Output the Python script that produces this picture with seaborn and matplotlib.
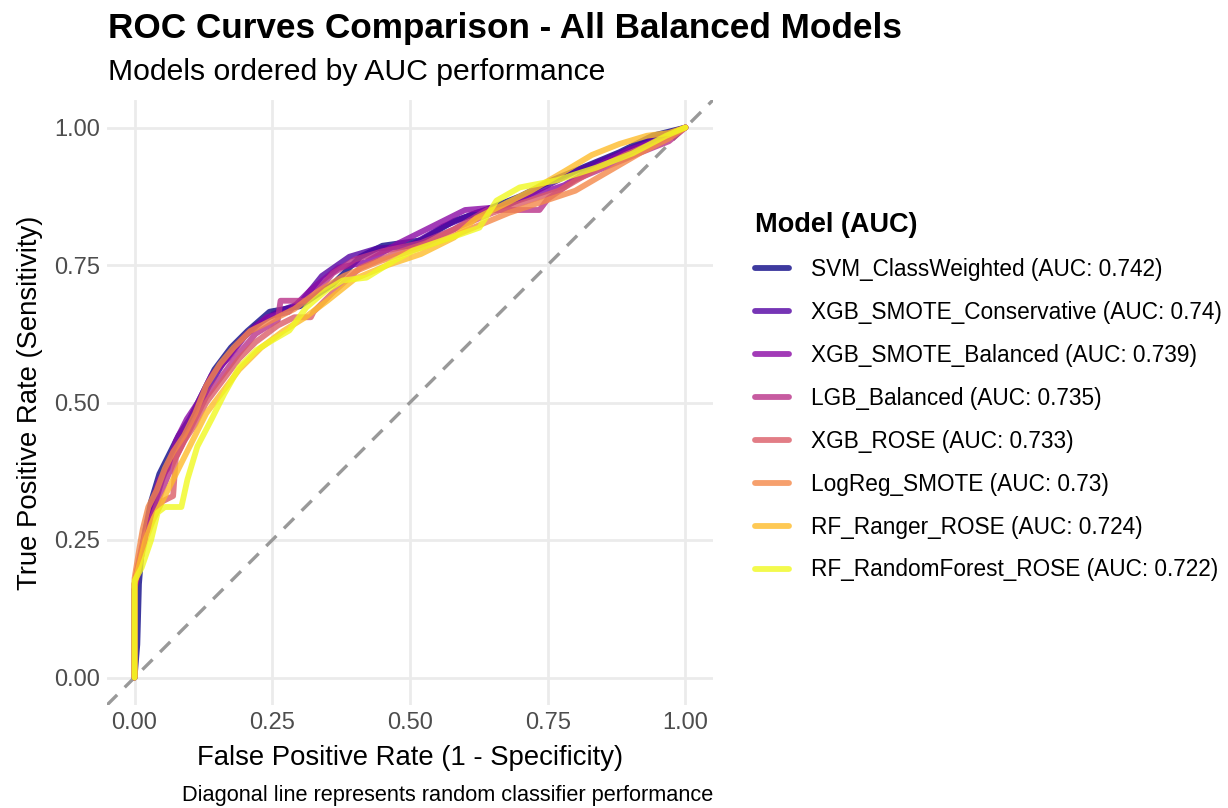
import numpy as np
import pandas as pd
import matplotlib
matplotlib.use("Agg")
import matplotlib.pyplot as plt
import seaborn as sns
from matplotlib.lines import Line2D

sns.set_theme(style="white")
plt.rcParams['font.family'] = ['Liberation Sans', 'DejaVu Sans']
plt.rcParams['text.color'] = 'black'
plt.rcParams['axes.labelcolor'] = 'black'

# ---------------- data ----------------
models = ["SVM_ClassWeighted", "XGB_SMOTE_Conservative", "XGB_SMOTE_Balanced",
          "LGB_Balanced", "XGB_ROSE", "LogReg_SMOTE", "RF_Ranger_ROSE",
          "RF_RandomForest_ROSE"]
auc_labels = ["0.742", "0.74", "0.739", "0.735", "0.733", "0.73", "0.724", "0.722"]

svm_fpr = [0, 0.005, 0.008, 0.012, 0.02, 0.03, 0.045, 0.06, 0.08, 0.10, 0.12, 0.145, 0.175, 0.205,
           0.245, 0.30, 0.36, 0.41, 0.45, 0.52, 0.58, 0.65, 0.70, 0.76, 0.82, 0.88, 0.94, 1.0]
svm_tpr = [0, 0.06, 0.17, 0.22, 0.27, 0.32, 0.37, 0.40, 0.44, 0.47, 0.51, 0.56, 0.60, 0.63,
           0.665, 0.675, 0.715, 0.765, 0.785, 0.795, 0.83, 0.855, 0.875, 0.905, 0.93, 0.955, 0.985, 1.0]

xgbc_fpr = [0, 0, 0.01, 0.02, 0.035, 0.05, 0.07, 0.09, 0.11, 0.135, 0.16, 0.19, 0.22, 0.26,
            0.30, 0.34, 0.39, 0.44, 0.50, 0.56, 0.62, 0.68, 0.74, 0.80, 0.86, 0.92, 0.97, 1.0]
xgbc_tpr = [0, 0.16, 0.21, 0.26, 0.31, 0.36, 0.41, 0.44, 0.48, 0.53, 0.57, 0.61, 0.64, 0.665,
            0.68, 0.73, 0.765, 0.78, 0.785, 0.82, 0.845, 0.86, 0.89, 0.92, 0.945, 0.97, 0.99, 1.0]

xgbb_fpr = [0, 0, 0.01, 0.02, 0.03, 0.045, 0.06, 0.075, 0.095, 0.115, 0.14, 0.17, 0.20, 0.24,
            0.28, 0.32, 0.37, 0.42, 0.48, 0.54, 0.60, 0.66, 0.72, 0.78, 0.84, 0.90, 0.96, 1.0]
xgbb_tpr = [0, 0.17, 0.22, 0.27, 0.31, 0.36, 0.38, 0.43, 0.47, 0.50, 0.55, 0.58, 0.62, 0.655,
            0.665, 0.705, 0.745, 0.755, 0.79, 0.82, 0.85, 0.855, 0.875, 0.895, 0.93, 0.96, 0.98, 1.0]

lgb_fpr = [0, 0, 0.01, 0.02, 0.035, 0.05, 0.07, 0.09, 0.11, 0.13, 0.16, 0.19, 0.22, 0.26, 0.265,
           0.315, 0.33, 0.36, 0.40, 0.45, 0.52, 0.58, 0.64, 0.68, 0.735, 0.75, 0.80, 0.86, 0.92, 0.97, 1.0]
lgb_tpr = [0, 0.16, 0.21, 0.26, 0.30, 0.34, 0.39, 0.43, 0.47, 0.51, 0.55, 0.59, 0.625, 0.65, 0.685,
           0.685, 0.70, 0.735, 0.76, 0.775, 0.79, 0.815, 0.85, 0.85, 0.85, 0.87, 0.905, 0.93, 0.955, 0.975, 1.0]

xgbr_fpr = [0, 0, 0.01, 0.02, 0.035, 0.05, 0.07, 0.075, 0.09, 0.11, 0.13, 0.16, 0.19, 0.22, 0.26,
            0.29, 0.32, 0.325, 0.36, 0.41, 0.47, 0.53, 0.59, 0.65, 0.71, 0.77, 0.83, 0.89, 0.95, 1.0]
xgbr_tpr = [0, 0.17, 0.22, 0.26, 0.29, 0.32, 0.33, 0.40, 0.43, 0.46, 0.50, 0.54, 0.58, 0.61, 0.64,
            0.655, 0.655, 0.665, 0.70, 0.745, 0.77, 0.79, 0.82, 0.845, 0.865, 0.885, 0.92, 0.95, 0.975, 1.0]

logreg_fpr = [0, 0, 0.008, 0.015, 0.025, 0.04, 0.055, 0.07, 0.09, 0.11, 0.13, 0.155, 0.18, 0.21,
              0.25, 0.29, 0.33, 0.38, 0.44, 0.50, 0.56, 0.62, 0.68, 0.74, 0.80, 0.86, 0.92, 0.97, 1.0]
logreg_tpr = [0, 0.18, 0.23, 0.27, 0.31, 0.34, 0.38, 0.41, 0.44, 0.48, 0.53, 0.57, 0.60, 0.63,
              0.65, 0.67, 0.70, 0.73, 0.755, 0.775, 0.795, 0.82, 0.845, 0.865, 0.885, 0.92, 0.955, 0.98, 1.0]

ranger_fpr = [0, 0, 0.01, 0.02, 0.035, 0.05, 0.07, 0.09, 0.11, 0.13, 0.16, 0.19, 0.23, 0.27,
              0.31, 0.35, 0.40, 0.46, 0.52, 0.58, 0.62, 0.67, 0.72, 0.78, 0.83, 0.88, 0.93, 0.97, 1.0]
ranger_tpr = [0, 0.17, 0.21, 0.25, 0.29, 0.32, 0.36, 0.40, 0.44, 0.48, 0.52, 0.56, 0.60, 0.63,
              0.655, 0.685, 0.725, 0.75, 0.77, 0.80, 0.835, 0.86, 0.885, 0.92, 0.95, 0.97, 0.985, 0.99, 1.0]

rf_fpr = [0, 0, 0.013, 0.03, 0.042, 0.055, 0.085, 0.096, 0.114, 0.14, 0.163, 0.19, 0.221, 0.25,
          0.281, 0.312, 0.348, 0.378, 0.421, 0.463, 0.505, 0.595, 0.626, 0.657, 0.699, 0.766, 0.838,
          0.904, 0.965, 1.0]
rf_tpr = [0, 0.176, 0.2, 0.25, 0.30, 0.31, 0.31, 0.36, 0.42, 0.47, 0.516, 0.564, 0.595, 0.613,
          0.631, 0.673, 0.704, 0.722, 0.727, 0.753, 0.776, 0.807, 0.818, 0.867, 0.891, 0.904, 0.927,
          0.953, 0.985, 1.0]

fprs = [svm_fpr, xgbc_fpr, xgbb_fpr, lgb_fpr, xgbr_fpr, logreg_fpr, ranger_fpr, rf_fpr]
tprs = [svm_tpr, xgbc_tpr, xgbb_tpr, lgb_tpr, xgbr_tpr, logreg_tpr, ranger_tpr, rf_tpr]

colors = ["#0D0887", "#5402A3", "#8B0AA5", "#B93289", "#DB5C68", "#F48849", "#FEBC2A", "#F0F921"]

labels = [f"{m} (AUC: {a})" for m, a in zip(models, auc_labels)]
rows = []
for lab, f, t in zip(labels, fprs, tprs):
    for i, (fx, ty) in enumerate(zip(f, t)):
        rows.append({"model": lab, "fpr": fx, "tpr": ty, "order": i})
df = pd.DataFrame(rows)

# ---------------- figure ----------------
W, H = 1228, 808
fig = plt.figure(figsize=(W / 100, H / 100), dpi=100)
ax = fig.add_axes([107 / W, 1 - 705 / H, (713 - 107) / W, (705 - 100) / H])

ax.axline((0, 0), (1, 1), color="#999999", lw=2.4, dashes=(4.3, 3.2), zorder=1)

sns.lineplot(data=df, x="fpr", y="tpr", hue="model", hue_order=labels,
             palette=dict(zip(labels, colors)), sort=False, estimator=None,
             linewidth=4.2, alpha=0.8, ax=ax, legend=True, zorder=2)

ax.set_xlim(-0.05, 1.05)
ax.set_ylim(-0.05, 1.05)
ticks = [0, 0.25, 0.5, 0.75, 1.0]
tick_labels = ["0.00", "0.25", "0.50", "0.75", "1.00"]
ax.set_xticks(ticks)
ax.set_xticklabels(tick_labels)
ax.set_yticks(ticks)
ax.set_yticklabels(tick_labels)
ax.tick_params(axis="both", length=0, labelsize=17, labelcolor="#4D4D4D", pad=5)
ax.grid(True, color="#EBEBEB", lw=2.0)
ax.set_axisbelow(True)
for s in ax.spines.values():
    s.set_visible(False)
ax.set_xlabel("False Positive Rate (1 - Specificity)", fontsize=19.8, color="black", labelpad=8)
ax.set_ylabel("True Positive Rate (Sensitivity)", fontsize=19.8, color="black", labelpad=8)

# legend
ax.get_legend().remove()
handles = [Line2D([0], [0], color=c, lw=4.2, alpha=0.8) for c in colors]
leg = fig.legend(handles, labels, loc="upper left", bbox_to_anchor=(746 / W, 1 - 203 / H),
                 frameon=False, fontsize=16.3, title="Model (AUC)",
                 title_fontproperties={"weight": "bold", "size": 19.5},
                 alignment="left", handlelength=1.5, handletextpad=0.95,
                 labelspacing=0.88, borderaxespad=0)

fig.text(108 / W, 1 - 38 / H, "ROC Curves Comparison - All Balanced Models",
         fontsize=25.3, fontweight="bold", ha="left", va="baseline")
fig.text(108 / W, 1 - 80 / H, "Models ordered by AUC performance",
         fontsize=21.7, ha="left", va="baseline")
fig.text(713 / W, 1 - 796 / H, "Diagonal line represents random classifier performance",
         fontsize=15.7, ha="right", va="center")

fig.savefig("out.png", dpi=100, facecolor="white")
